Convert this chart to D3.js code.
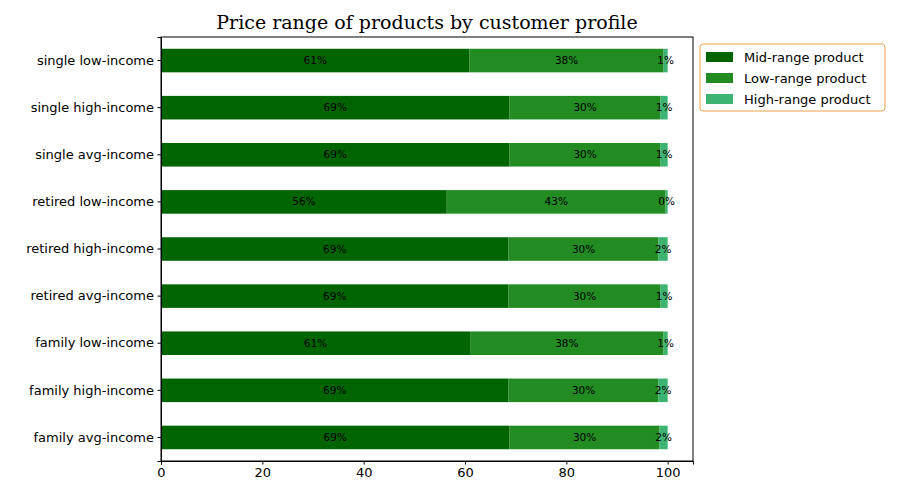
<!DOCTYPE html>
<html><head><meta charset="utf-8">
<script src="https://cdn.jsdelivr.net/npm/d3@7"></script>
<style>body{margin:0;background:#fff}</style>
</head><body><svg id="c" width="900" height="500"></svg>
<script>
let categories = ["family avg-income","family high-income","family low-income","retired avg-income","retired high-income","retired low-income","single avg-income","single high-income","single low-income"];
let midRange = [68.8, 68.6, 61.0, 68.6, 68.6, 56.4, 68.8, 68.8, 60.9];
let lowRange = [29.6, 29.6, 38.2, 30.0, 29.6, 43.2, 29.8, 29.8, 38.3];
let highRange = [1.6, 1.8, 0.8, 1.4, 1.8, 0.4, 1.4, 1.4, 0.8];
let seriesNames = ["Mid-range product","Low-range product","High-range product"];
let colors = ["#006400","#228b22","#3cb371"];
let xTicks = [0,20,40,60,80,100];

let svg = d3.select("#c");
let m = {l:161, r:693, t:37, b:461};
let x = d3.scaleLinear().domain([0,105]).range([m.l,m.r]);
let y = d3.scaleBand().domain(categories.slice().reverse()).range([m.t,m.b]).paddingInner(0.5).paddingOuter(0.25);

let data = categories.map((c,i) => ({cat:c, vals:[midRange[i], lowRange[i], highRange[i]]}));

data.forEach(function(d){
  let start = 0;
  d.vals.forEach(function(v,j){
    svg.append("rect")
      .attr("x", x(start)).attr("y", y(d.cat))
      .attr("width", x(start+v)-x(start)).attr("height", y.bandwidth())
      .attr("fill", colors[j]);
    svg.append("text")
      .attr("x", x(start+v/2)).attr("y", y(d.cat)+y.bandwidth()/2+3.5)
      .attr("text-anchor","middle").style("font","10.5px 'DejaVu Sans'")
      .text(Math.round(v)+"%");
    start += v;
  });
});

svg.append("g").attr("transform","translate(0,"+m.b+")")
  .call(d3.axisBottom(x).tickValues(xTicks).tickSize(3.5).tickPadding(3.5))
  .call(g => g.selectAll("text").style("font","13px 'DejaVu Sans'").attr("fill","#000"));
svg.append("g").attr("transform","translate("+m.l+",0)")
  .call(d3.axisLeft(y).tickSize(3.5).tickPadding(3.5))
  .call(g => g.selectAll("text").style("font","13px 'DejaVu Sans'").attr("fill","#000"));
svg.append("rect").attr("x",m.l).attr("y",m.t).attr("width",m.r-m.l).attr("height",m.b-m.t)
  .attr("fill","none").attr("stroke","#000");

svg.append("text").attr("x",(m.l+m.r)/2).attr("y",29).attr("text-anchor","middle")
  .style("font","19px 'DejaVu Serif'").text("Price range of products by customer profile");

let lg = svg.append("g").attr("transform","translate(700,44)");
lg.append("rect").attr("width",185).attr("height",67).attr("rx",3)
  .attr("fill","#fff").attr("stroke","#f0a04b");
seriesNames.forEach(function(n,i){
  lg.append("rect").attr("x",6).attr("y",8+i*21).attr("width",27).attr("height",10).attr("fill",colors[i]);
  lg.append("text").attr("x",44).attr("y",17.5+i*21).style("font","13px 'DejaVu Sans'").text(n);
});
</script></body></html>
